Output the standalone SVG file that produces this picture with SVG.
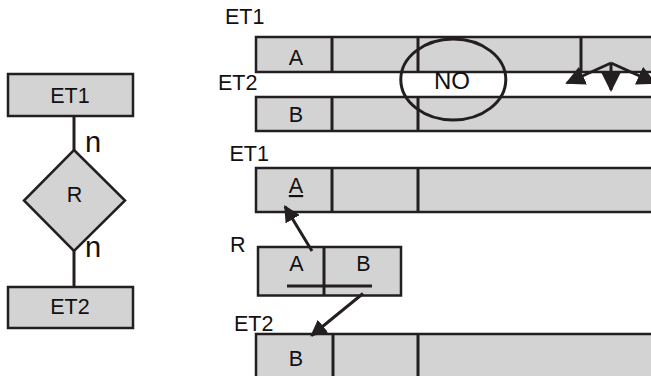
<svg xmlns="http://www.w3.org/2000/svg" width="651" height="376" viewBox="0 0 651 376">
  <style>
    .box { fill: #d3d3d3; stroke: #231f20; stroke-width: 2.5; }
    .div { stroke: #231f20; stroke-width: 3; fill: none; }
    .edge { stroke: #231f20; stroke-width: 3; fill: none; }
    .t { font-family: "Liberation Sans", Arial, sans-serif; font-size: 21.5px; fill: #111; }
    .c { text-anchor: middle; }
    .big { font-size: 29px; }
    .no { font-size: 24px; }
  </style>
  <defs>
    <marker id="head" viewBox="0 0 10 10" refX="9" refY="5" markerWidth="5.5" markerHeight="5.5" orient="auto" markerUnits="strokeWidth">
      <path d="M0,0 L10,5 L0,10 Z" fill="#231f20"/>
    </marker>
    <marker id="head-big" viewBox="0 0 10 10" refX="9" refY="5" markerWidth="6.5" markerHeight="6.5" orient="auto" markerUnits="strokeWidth">
      <path d="M0,0 L10,5 L0,10 Z" fill="#231f20"/>
    </marker>
  </defs>

  <!-- ER schema: ET1 -n- R -n- ET2 -->
  <g id="er-connectors">
    <line class="edge" x1="74" y1="116" x2="74" y2="150"/>
    <line class="edge" x1="74" y1="251" x2="74" y2="287"/>
  </g>
  <g id="er-et1">
    <rect class="box" x="8" y="74" width="125" height="42"/>
    <text class="t c" x="70" y="103">ET1</text>
  </g>
  <g id="er-r">
    <polygon class="box" points="74,150 125,200.5 74,251 24,200.5"/>
    <text class="t c" x="74.5" y="202">R</text>
    <text class="t big" x="85" y="152">n</text>
    <text class="t big" x="85" y="257">n</text>
  </g>
  <g id="er-et2">
    <rect class="box" x="8" y="287" width="125" height="41"/>
    <text class="t c" x="70" y="314">ET2</text>
  </g>

  <!-- Merged tables: not possible -->
  <g id="merge-et1">
    <text class="t" x="225" y="24">ET1</text>
    <rect class="box" x="256" y="37" width="410" height="35"/>
    <line class="div" x1="332" y1="37" x2="332" y2="72"/>
    <line class="div" x1="418" y1="37" x2="418" y2="72"/>
    <line class="div" x1="581" y1="37" x2="581" y2="72"/>
    <text class="t c" x="296" y="65">A</text>
  </g>
  <g id="merge-et2">
    <text class="t" x="218" y="90">ET2</text>
    <rect class="box" x="256" y="97" width="410" height="34"/>
    <line class="div" x1="332" y1="97" x2="332" y2="131"/>
    <line class="div" x1="418" y1="97" x2="418" y2="131"/>
    <text class="t c" x="296" y="122">B</text>
  </g>
  <g id="merge-no">
    <ellipse cx="453.3" cy="79.5" rx="52.5" ry="40.5" fill="none" stroke="#231f20" stroke-width="3"/>
    <text class="t c no" x="452" y="89">NO</text>
  </g>
  <g id="merge-fanout">
    <line class="edge" x1="611" y1="63" x2="567" y2="83" stroke-width="2.5" marker-end="url(#head-big)"/>
    <line class="edge" x1="611" y1="63" x2="611" y2="90" stroke-width="2.5" marker-end="url(#head-big)"/>
    <line class="edge" x1="611" y1="63" x2="655" y2="83" stroke-width="2.5" marker-end="url(#head-big)"/>
  </g>

  <!-- Relation table R referencing ET1 and ET2 -->
  <g id="rel-et1">
    <text class="t" x="229.5" y="161">ET1</text>
    <rect class="box" x="256" y="168" width="410" height="44"/>
    <line class="div" x1="332" y1="168" x2="332" y2="212"/>
    <line class="div" x1="418" y1="168" x2="418" y2="212"/>
    <text class="t c" x="296" y="193" text-decoration="underline">A</text>
  </g>
  <g id="rel-r">
    <text class="t" x="230" y="252">R</text>
    <rect class="box" x="258" y="247" width="143" height="48.5"/>
    <line class="div" x1="324" y1="247" x2="324" y2="295.5"/>
    <text class="t c" x="296.5" y="271">A</text>
    <text class="t c" x="363.5" y="271">B</text>
    <line class="div" x1="287" y1="286" x2="372" y2="286"/>
  </g>
  <g id="rel-et2">
    <text class="t" x="234" y="331">ET2</text>
    <rect class="box" x="256" y="334" width="410" height="50"/>
    <line class="div" x1="333" y1="334" x2="333" y2="384"/>
    <line class="div" x1="418" y1="334" x2="418" y2="384"/>
    <text class="t c" x="296" y="366">B</text>
  </g>
  <g id="rel-connectors">
    <line class="edge" x1="312" y1="251" x2="285" y2="206.5" marker-end="url(#head)"/>
    <line class="edge" x1="363" y1="293.5" x2="311.5" y2="335.5" marker-end="url(#head)"/>
  </g>
</svg>
